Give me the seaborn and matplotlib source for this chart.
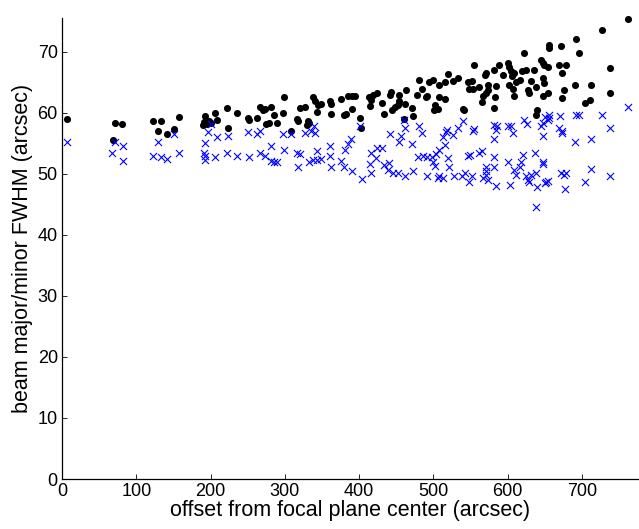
import matplotlib
matplotlib.use("Agg")
import matplotlib.pyplot as plt
import numpy as np
import pandas as pd
import seaborn as sns

# major axis FWHM (black dots)
major_x = [7, 68.5, 72, 81, 122.7, 129.5, 133, 142, 150.5, 158,
           190, 191, 192, 195, 198, 201, 206.5, 209, 222.7, 223.5,
           236, 250, 252, 262.5, 267, 270, 273.7, 275, 279, 282,
           285, 289, 297.5, 299, 308.7, 316, 317.6, 321, 327.5, 330,
           331, 333, 338, 340, 342.7, 344.5, 348, 360.7, 362.5, 362.5,
           375, 380, 382, 385, 390, 390, 395, 400.5, 403, 413,
           415, 416, 418.5, 424, 431, 433, 441, 443, 444.5, 447.6,
           452, 453, 454, 461, 462, 463, 471, 472, 478, 481,
           485, 490, 491.5, 494.6, 499, 501.3, 502.7, 506, 507, 508,
           515, 516, 520, 526, 533, 540, 541.7, 546, 548, 552,
           553, 555, 561, 565, 567, 570, 571, 571, 573, 574,
           582, 582, 583, 584, 588, 593, 600, 602, 602, 605,
           606, 607, 609, 609, 611, 616, 619, 622, 624, 627,
           629, 631, 636, 638, 638, 639, 645, 647, 648, 648,
           649, 649, 654, 654, 655, 656, 669, 672, 673, 673,
           676, 678, 691, 692, 696, 704, 711, 712, 727, 737.5,
           737.5, 762]
major_y = [59.0, 55.6, 58.3, 58.2, 58.6, 57.0, 58.6, 56.6, 57.4, 59.3,
           58.0, 58.5, 59.5, 58.2, 58.7, 58.4, 60.0, 58.8, 60.8, 57.6,
           60.0, 59.1, 58.8, 59.1, 61.0, 60.4, 60.7, 58.2, 58.4, 61.0,
           59.7, 58.4, 60.0, 62.6, 57.0, 59.0, 58.6, 60.8, 61.0, 58.0,
           58.7, 58.3, 62.6, 61.9, 60.2, 61.3, 61.5, 61.9, 61.5, 59.8,
           62.3, 59.7, 59.9, 62.7, 62.8, 60.6, 62.8, 59.1, 57.6, 62.6,
           61.2, 62.1, 63.0, 63.3, 61.6, 59.8, 62.9, 63.5, 60.5, 61.0,
           61.3, 62.9, 61.9, 59.0, 61.5, 63.8, 60.8, 59.5, 62.9, 65.4,
           64.0, 62.6, 62.8, 65.0, 65.4, 60.5, 61.3, 60.7, 62.6, 64.6,
           65.1, 62.2, 66.4, 65.3, 65.7, 60.7, 60.4, 65.1, 64.0, 65.3,
           63.9, 67.9, 64.2, 61.8, 62.8, 66.2, 63.2, 66.5, 63.8, 64.5,
           60.8, 67.0, 62.6, 64.4, 67.9, 66.2, 68.1, 67.5, 64.6, 66.8,
           66.1, 64.0, 66.5, 62.7, 65.1, 65.4, 66.8, 69.8, 67.0, 63.8,
           63.2, 65.3, 67.0, 64.2, 59.7, 60.5, 68.7, 68.1, 65.7, 62.8,
           67.9, 64.9, 67.5, 63.3, 71.1, 70.6, 67.9, 71.0, 66.5, 62.4,
           63.8, 67.9, 64.6, 72.1, 69.9, 61.6, 62.1, 64.6, 73.6, 67.3,
           63.3, 75.4]

# minor axis FWHM (blue crosses)
minor_x = [7, 68, 72, 81.5, 81.5, 122.7, 129.5, 133, 142, 150.5,
           158, 191, 192, 192.6, 192.6, 196.6, 201, 206, 209, 222.7,
           223.5, 236, 250, 251.7, 262.5, 267, 267, 273, 281, 282,
           285, 289, 298, 299, 308.7, 316, 318, 321, 326.6, 332,
           335.6, 338, 339, 341, 343.7, 343.7, 349, 360.7, 360.7, 362.5,
           375, 380, 381, 385, 388.4, 390, 401.5, 403.6, 415, 416,
           416, 423, 424, 431, 434, 438.6, 440, 442, 445, 452,
           454, 456.6, 461, 462, 462, 471, 473, 479, 481, 485,
           485.6, 491, 491, 498, 500, 502, 503, 506, 507, 508,
           512.5, 513, 516, 517, 518, 519, 521, 526, 528, 533,
           539, 540, 542, 546, 548, 549, 552, 553, 555, 562,
           566, 567, 571, 571, 571, 573, 582, 582, 584, 582,
           582, 586, 584, 600, 604, 607.5, 600, 603, 609, 611,
           616, 618.5, 620.5, 622, 625.5, 624.6, 627, 629, 631, 636.6,
           638, 639, 638, 645, 647, 648, 650.5, 654, 656, 656,
           647, 648, 651.5, 654, 649.6, 670, 669, 673, 673, 672,
           676, 678, 677, 691, 692, 696, 712, 704, 712, 727,
           737.5, 737.5, 762]
minor_y = [55.3, 53.5, 55.2, 54.5, 52.2, 52.9, 55.2, 52.7, 52.5, 56.6,
           53.5, 53.5, 55.0, 53.0, 52.3, 56.8, 58.2, 52.7, 56.0, 53.4,
           56.2, 53.0, 56.8, 52.7, 56.6, 57.0, 53.4, 52.9, 52.1, 54.6,
           51.9, 51.9, 56.6, 54.0, 56.6, 53.5, 51.2, 53.3, 56.7, 52.0,
           57.0, 52.3, 57.8, 56.7, 53.7, 52.3, 52.4, 54.5, 52.9, 51.1,
           52.1, 51.2, 53.9, 54.9, 55.8, 50.4, 57.8, 49.2, 51.6, 53.5,
           50.1, 52.6, 54.2, 54.3, 51.5, 50.7, 51.8, 56.5, 50.1, 50.1,
           55.3, 56.2, 58.9, 57.6, 49.7, 54.9, 50.4, 52.7, 57.9, 56.7,
           53.0, 52.7, 49.7, 52.8, 52.0, 51.3, 53.3, 49.3, 53.9, 49.6,
           49.3, 56.1, 54.8, 56.8, 57.2, 52.6, 51.2, 56.4, 49.7, 57.5,
           49.7, 58.7, 50.1, 53.0, 48.7, 53.1, 49.7, 57.0, 57.3, 53.4,
           53.8, 49.3, 51.2, 50.4, 49.8, 49.0, 52.8, 51.1, 48.0, 55.7,
           58.0, 57.9, 57.2, 57.9, 57.8, 56.7, 52.0, 48.2, 50.7, 49.8,
           51.2, 52.0, 53.1, 58.9, 58.2, 49.6, 49.0, 48.7, 49.8, 53.5,
           50.2, 47.8, 44.6, 57.8, 58.3, 56.2, 59.4, 58.9, 59.7, 59.1,
           52.0, 51.6, 48.7, 48.9, 48.5, 59.5, 57.5, 57.0, 56.7, 50.2,
           49.8, 50.2, 47.6, 55.3, 59.7, 59.7, 55.7, 48.7, 50.8, 59.7,
           57.6, 49.6, 60.9]

x_ticks = [0, 100, 200, 300, 400, 500, 600, 700]
y_ticks = [0, 10, 20, 30, 40, 50, 60, 70]

major = pd.DataFrame({"offset": major_x, "fwhm": major_y})
minor = pd.DataFrame({"offset": minor_x, "fwhm": minor_y})

sns.set_style("ticks")
plt.rcParams['font.family'] = ['Liberation Sans', 'DejaVu Sans']

fig = plt.figure(figsize=(6.39, 5.29), dpi=100)
ax = fig.add_axes([0.097, 0.0945, 0.901, 0.872])

sns.scatterplot(data=major, x="offset", y="fwhm", ax=ax, color="black",
                marker="o", s=26, edgecolor="black", linewidth=0, clip_on=False)
sns.scatterplot(data=minor, x="offset", y="fwhm", ax=ax, color="#0000ff",
                marker="x", s=26, linewidth=0.8)

ax.set_xlim(0, 775)
ax.set_ylim(0, 75.6)
ax.set_xticks(x_ticks)
ax.set_yticks(y_ticks)
ax.tick_params(direction="in", length=3.5, width=0.6, labelsize=13,
               colors="black", pad=3)
for side in ["top", "right"]:
    ax.spines[side].set_visible(False)
for side in ["left", "bottom"]:
    ax.spines[side].set_linewidth(0.9)
    ax.spines[side].set_color("black")

ax.set_xlabel("offset from focal plane center (arcsec)", fontsize=15.5,
              labelpad=0, color="black")
ax.set_ylabel("beam major/minor FWHM (arcsec)", fontsize=15.5,
              labelpad=3, color="black")

fig.savefig("out.png", dpi=100)
